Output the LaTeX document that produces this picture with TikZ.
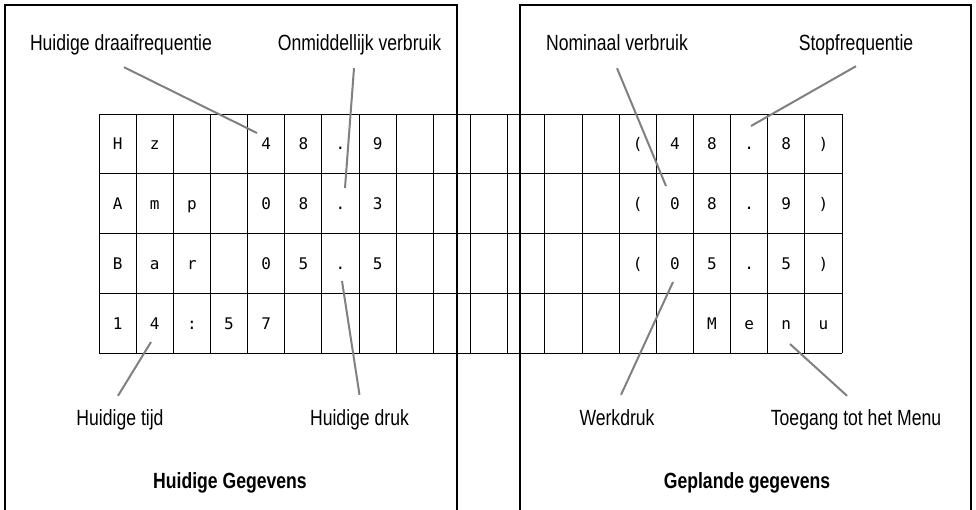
\documentclass[tikz,border=0pt]{standalone}
\usepackage{fontspec}
\setmainfont{Liberation Sans}[FakeStretch=0.8]
\newfontfamily\lcdfont{DejaVu Sans Mono}

\begin{document}
\begin{tikzpicture}[x=1pt, y=-1pt,
	every node/.style={inner sep=0pt, font=\fontsize{22}{26}\selectfont},
	callout/.style={anchor=base, text height=16pt, text depth=5pt},
	paneltitle/.style={anchor=base, font=\fontsize{22}{26}\selectfont\bfseries},
	cell/.style={font=\lcdfont\fontsize{16}{16}\selectfont, text height=11.7pt, text depth=0pt},
	lcdgrid/.style={line width=0.9pt},
	panel/.style={line width=2.2pt},
	leader/.style={draw=gray, line width=2pt}]
	\useasboundingbox (0,0) rectangle (976,509);
	\clip (0,0) rectangle (976,509);
	\draw[panel] (5,530) -- (5,5) -- (457,5) -- (457,530);
	\draw[panel] (520,530) -- (520,5) -- (971,5) -- (971,530);
	\foreach \i in {0,...,20} \draw[lcdgrid] (99+37.15*\i,114) -- (99+37.15*\i,353.2);
	\foreach \j in {0,...,4} \draw[lcdgrid] (99,114+59.8*\j) -- (842,114+59.8*\j);
	\foreach \r/\c/\t in {0/0/H, 0/1/z, 0/4/4, 0/5/8, 0/6/., 0/7/9, 0/14/{(}, 0/15/4, 0/16/8, 0/17/., 0/18/8, 0/19/{)},
		1/0/A, 1/1/m, 1/2/p, 1/4/0, 1/5/8, 1/6/., 1/7/3, 1/14/{(}, 1/15/0, 1/16/8, 1/17/., 1/18/9, 1/19/{)},
		2/0/B, 2/1/a, 2/2/r, 2/4/0, 2/5/5, 2/6/., 2/7/5, 2/14/{(}, 2/15/0, 2/16/5, 2/17/., 2/18/5, 2/19/{)},
		3/0/1, 3/1/4, 3/2/:, 3/3/5, 3/4/7, 3/16/M, 3/17/e, 3/18/n, 3/19/u}
		\node[cell] (c\r-\c) at (117.575+37.15*\c, 143.9+59.8*\r) {\t};
	\node[callout] (draai) at (121,50) {Huidige draaifrequentie};
	\node[callout] (onmid) at (359.5,50) {Onmiddellijk verbruik};
	\node[callout] (nomin) at (617,50) {Nominaal verbruik};
	\node[callout] (stop) at (856,50) {Stopfrequentie};
	\node[callout] (tijd) at (120,425) {Huidige tijd};
	\node[callout] (druk) at (359.5,425) {Huidige druk};
	\node[callout] (werk) at (617,425) {Werkdruk};
	\node[callout] (menu) at (856,425) {Toegang tot het Menu};
	\node[paneltitle] (huidig) at (230,488) {Huidige Gegevens};
	\node[paneltitle] (gepland) at (747,488) {Geplande gegevens};
	\coordinate (tip-draai) at (257,133);
	\coordinate (tip-onmid) at (345,188);
	\coordinate (tip-nomin) at (666,186);
	\coordinate (tip-stop) at (751,126);
	\coordinate (tip-tijd) at (151,342);
	\coordinate (tip-druk) at (342,281);
	\coordinate (tip-werk) at (673,282);
	\coordinate (tip-menu) at (790,344);
	\draw[leader] ([xshift=3pt,yshift=-12pt]draai.south) -- (tip-draai);
	\draw[leader] ([xshift=-5.5pt,yshift=-13pt]onmid.south) -- (tip-onmid);
	\draw[leader] ([yshift=-13pt]nomin.south) -- (tip-nomin);
	\draw[leader] ([yshift=-11pt]stop.south) -- (tip-stop);
	\draw[leader] ([xshift=-2pt,yshift=13pt]tijd.north) -- (tip-tijd);
	\draw[leader] ([yshift=14pt]druk.north) -- (tip-druk);
	\draw[leader] ([xshift=4pt,yshift=14pt]werk.north) -- (tip-werk);
	\draw[leader] ([xshift=-9pt,yshift=13pt]menu.north) -- (tip-menu);
\end{tikzpicture}
\end{document}
